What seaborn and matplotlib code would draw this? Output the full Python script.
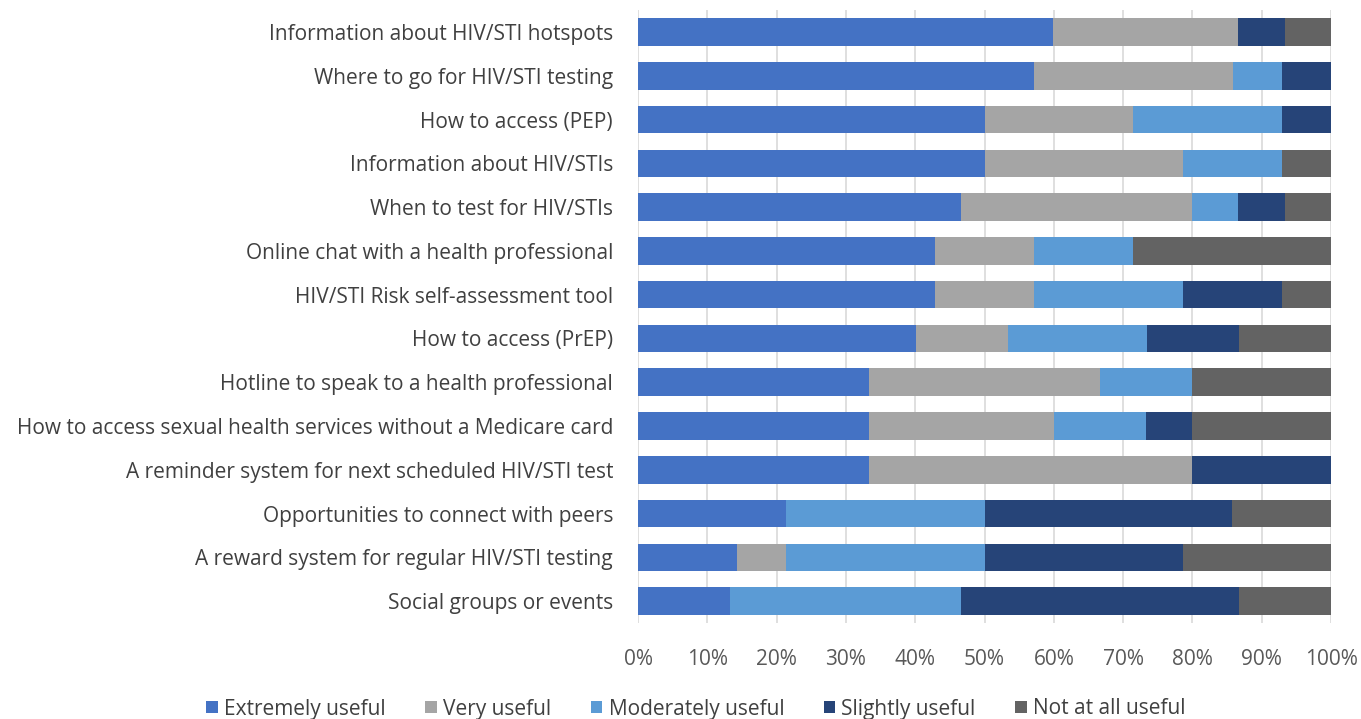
import numpy as np
import pandas as pd
import matplotlib
matplotlib.use("Agg")
import matplotlib.pyplot as plt
import seaborn as sns
from matplotlib.patches import Patch
from matplotlib.ticker import PercentFormatter

# --- data (percent of respondents) ---
items = [
    "Information about HIV/STI hotspots",
    "Where to go for HIV/STI testing",
    "How to access (PEP)",
    "Information about HIV/STIs",
    "When to test for HIV/STIs",
    "Online chat with a health professional",
    "HIV/STI Risk self-assessment tool",
    "How to access (PrEP)",
    "Hotline to speak to a health professional",
    "How to access sexual health services without a Medicare card",
    "A reminder system for next scheduled HIV/STI test",
    "Opportunities to connect with peers",
    "A reward system for regular HIV/STI testing",
    "Social groups or events",
]
extremely = [60.0, 57.1, 50.0, 50.0, 46.7, 42.9, 42.9, 40.0, 33.3, 33.3, 33.3, 21.4, 14.3, 13.3]
very      = [26.7, 28.6, 21.4, 28.6, 33.3, 14.3, 14.3, 13.3, 33.3, 26.7, 46.7,  0.0,  7.1,  0.0]
moderate  = [ 0.0,  7.1, 21.4, 14.3,  6.7, 14.3, 21.4, 20.0, 13.3, 13.3,  0.0, 28.6, 28.6, 33.3]
slightly  = [ 6.7,  7.1,  7.1,  0.0,  6.7,  0.0, 14.3, 13.3,  0.0,  6.7, 20.0, 35.7, 28.6, 40.0]
not_at_all = [6.7,  0.0,  0.0,  7.1,  6.7, 28.6,  7.1, 13.3, 20.0, 20.0,  0.0, 14.3, 21.4, 13.3]

levels = ["Extremely useful", "Very useful", "Moderately useful", "Slightly useful", "Not at all useful"]
colors = ["#4472C4", "#A5A5A5", "#5B9BD5", "#264478", "#636363"]

df = pd.DataFrame({
    "item": items,
    levels[0]: extremely,
    levels[1]: very,
    levels[2]: moderate,
    levels[3]: slightly,
    levels[4]: not_at_all,
})
# normalise rows to 100 and build cumulative ends for stacking
vals = df[levels].to_numpy()
vals = vals / vals.sum(axis=1, keepdims=True) * 100
cum = np.cumsum(vals, axis=1)

sns.set_theme(style="white")
plt.rcParams["font.family"] = ["Open Sans", "DejaVu Sans"]

fig = plt.figure(figsize=(13.61, 7.19), dpi=100)
ax = fig.add_axes([0.4688, 0.1335, 0.5092, 0.8525])

# draw from the outermost cumulative segment inwards so each layer sits on top
for i in range(len(levels) - 1, -1, -1):
    sns.barplot(x=cum[:, i], y=df["item"], color=colors[i], orient="h",
                width=0.63, saturation=1, linewidth=0, ax=ax)

ax.set_xlim(0, 100)
ax.set_ylim(len(items) - 0.5, -0.5)
ax.xaxis.set_major_locator(plt.MultipleLocator(10))
ax.xaxis.set_major_formatter(PercentFormatter(decimals=0))
ax.grid(axis="x", color="#D9D9D9", linewidth=1.2)
ax.set_axisbelow(True)
for s in ax.spines.values():
    s.set_visible(False)
ax.set_xlabel("")
ax.set_ylabel("")
ax.tick_params(axis="x", labelsize=15, colors="#595959", pad=19, length=0)
ax.tick_params(axis="y", labelsize=15, colors="#404040", pad=18, length=0)

handles = [Patch(facecolor=c, edgecolor="none", label=l) for l, c in zip(levels, colors)]
fig.legend(handles=handles, loc="center", bbox_to_anchor=(696 / 1361, 1 - 709 / 719),
           bbox_transform=fig.transFigure, ncol=5, frameon=False, fontsize=15,
           handlelength=0.55, handleheight=0.55, handletextpad=0.3,
           columnspacing=1.9, labelcolor="#404040")

fig.savefig("out.png", dpi=100)
